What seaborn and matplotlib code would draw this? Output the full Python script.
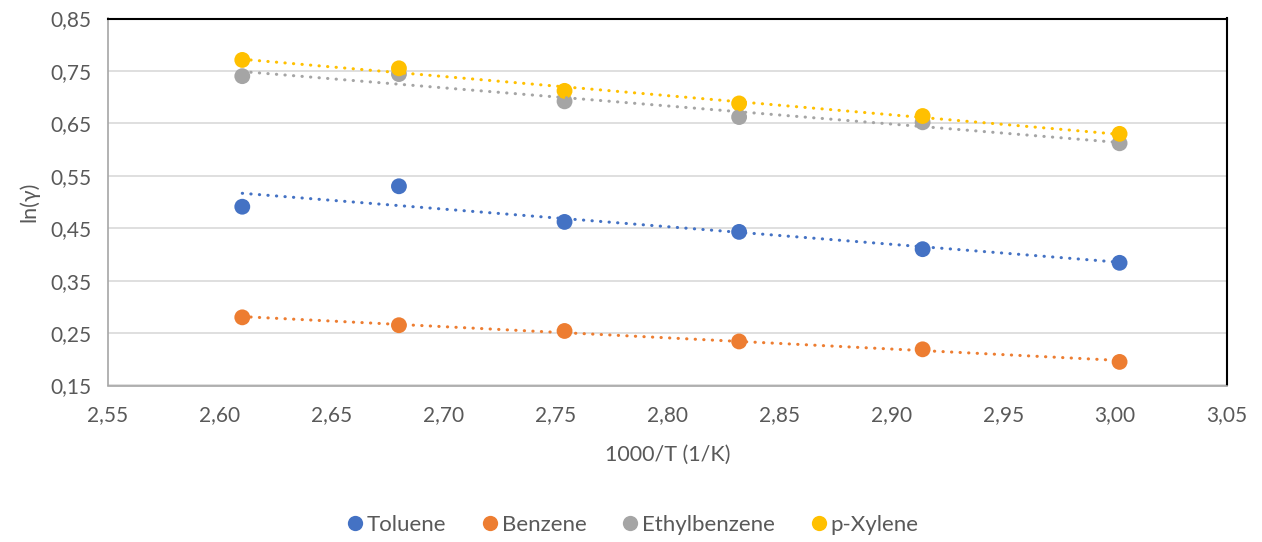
import numpy as np
import pandas as pd
import matplotlib
matplotlib.use("Agg")
import matplotlib.pyplot as plt
import seaborn as sns
from matplotlib.ticker import FuncFormatter, MultipleLocator, FixedLocator
from matplotlib.lines import Line2D

# Data
inv_T = [2.610, 2.680, 2.754, 2.832, 2.914, 3.002]
toluene = [0.491, 0.530, 0.462, 0.443, 0.410, 0.384]
benzene = [0.280, 0.265, 0.254, 0.234, 0.219, 0.195]
ethylbenzene = [0.740, 0.744, 0.692, 0.662, 0.652, 0.612]
p_xylene = [0.771, 0.755, 0.712, 0.688, 0.664, 0.630]
series_names = ["Toluene", "Benzene", "Ethylbenzene", "p-Xylene"]
colors = ["#4472C4", "#ED7D31", "#A5A5A5", "#FFC000"]
y_ticks = [0.15, 0.25, 0.35, 0.45, 0.55, 0.65, 0.75, 0.85]

rows = []
for name, vals in zip(series_names, [toluene, benzene, ethylbenzene, p_xylene]):
    for x, y in zip(inv_T, vals):
        rows.append({"x": x, "y": y, "series": name})
df = pd.DataFrame(rows)

sns.set_theme(style="white")
plt.rcParams["font.family"] = ["Lato", "DejaVu Sans"]

fig = plt.figure(figsize=(12.62, 5.42), dpi=100)
ax = fig.add_axes([108 / 1262, 1 - 385.5 / 542, (1227 - 108) / 1262, (385.5 - 18.5) / 542])

palette = dict(zip(series_names, colors))
sns.scatterplot(data=df, x="x", y="y", hue="series", palette=palette, s=130,
                edgecolor="none", legend=False, ax=ax, zorder=3)
for name in series_names:
    sub = df[df.series == name]
    sns.regplot(data=sub, x="x", y="y", scatter=False, ci=None, truncate=True, ax=ax,
                line_kws=dict(color=palette[name], lw=2.2, linestyle=(0, (0.1, 2.7)),
                              dash_capstyle="round", zorder=4))

ax.set_xlim(2.55, 3.05)
ax.set_ylim(0.15, 0.85)
ax.xaxis.set_major_locator(MultipleLocator(0.05))
ax.yaxis.set_major_locator(FixedLocator(y_ticks))
ax.yaxis.set_major_formatter(FuncFormatter(lambda v, p: f"{v:.2f}".replace(".", ",")))
ax.xaxis.set_major_formatter(FuncFormatter(lambda v, p: f"{v:.2f}".replace(".", ",")))
ax.grid(axis="y", color="#D9D9D9", lw=1.2)
ax.set_axisbelow(True)
ax.tick_params(axis="both", length=0, labelsize=15, colors="#595959")
ax.tick_params(axis="x", pad=14)
ax.tick_params(axis="y", pad=12)
for s in ["left", "bottom"]:
    ax.spines[s].set_color("#A6A6A6")
    ax.spines[s].set_linewidth(1.2)
for s in ["top", "right"]:
    ax.spines[s].set_color("black")
    ax.spines[s].set_linewidth(1.5)

ax.set_xlabel("1000/T (1/K)", fontsize=15.5, color="#595959", labelpad=14)
ax.set_ylabel("ln(γ)", fontsize=15.5, color="#595959", labelpad=8)

handles = [Line2D([], [], marker="o", linestyle="none", markersize=11,
                  markerfacecolor=c, markeredgecolor="none") for c in colors]
fig.legend(handles, series_names, loc="center", bbox_to_anchor=(0.498, 0.032), ncol=4,
           frameon=False, fontsize=16, labelcolor="#595959", handletextpad=-0.2,
           handlelength=1.5, columnspacing=1.2)

fig.savefig("out.png", dpi=100)
